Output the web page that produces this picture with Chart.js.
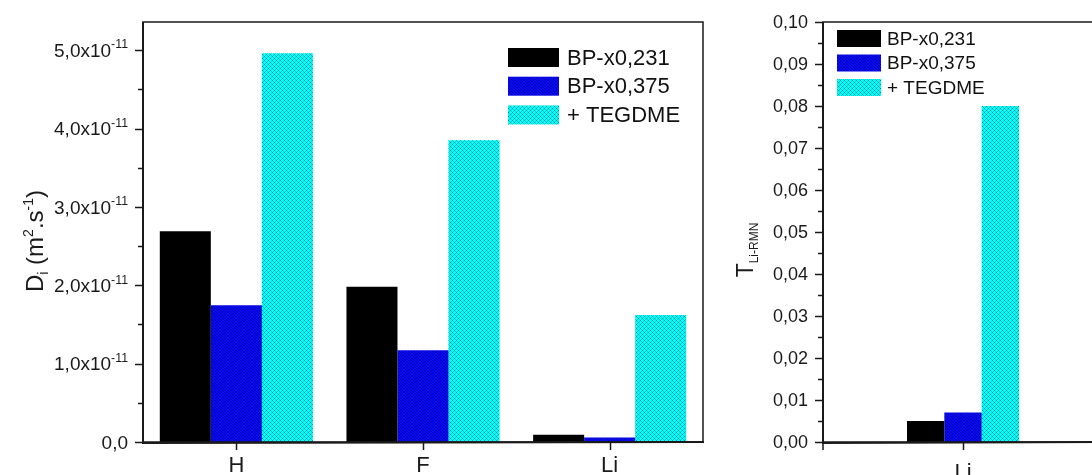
<!DOCTYPE html>
<html>
<head>
<meta charset="utf-8">
<script src="https://cdn.jsdelivr.net/npm/chart.js@4.4.1/dist/chart.umd.min.js"></script>
<style>
  html, body { margin: 0; padding: 0; background: #fff; overflow: hidden; }
  #wrap { position: relative; width: 1092px; height: 475px; overflow: hidden; background: #fff; }
  canvas { position: absolute; top: 0; }
  #diff { left: 0; }
  #trans { left: 720px; }
</style>
</head>
<body>
<div id="wrap">
  <canvas id="diff" width="720" height="475"></canvas>
  <canvas id="trans" width="420" height="475"></canvas>
</div>
<script>
// left panel: self-diffusion coefficients, in units of 1e-11 m2/s
const nuclei = ['H', 'F', 'Li'];
const seriesNames = ['BP-x0,231', 'BP-x0,375', '+ TEGDME'];
const diffBP231 = [2.69, 1.98, 0.094];
const diffBP375 = [1.745, 1.17, 0.056];
const diffTEGDME = [4.96, 3.85, 1.62];
const diffMajorTicks = [0, 1, 2, 3, 4, 5];
const diffMinorTicks = [0.5, 1.5, 2.5, 3.5, 4.5];
const diffTickLabels = ['0,0', '1,0x10', '2,0x10', '3,0x10', '4,0x10', '5,0x10'];
const diffExponent = '-11';

// right panel: Li transference number
const transCategories = ['Li'];
const transBP231 = [0.005];
const transBP375 = [0.007];
const transTEGDME = [0.080];
const transMajorTicks = [0, 0.01, 0.02, 0.03, 0.04, 0.05, 0.06, 0.07, 0.08, 0.09, 0.10];
const transMinorTicks = [0.005, 0.015, 0.025, 0.035, 0.045, 0.055, 0.065, 0.075, 0.085, 0.095];
const transTickLabels = ['0,00', '0,01', '0,02', '0,03', '0,04', '0,05', '0,06', '0,07', '0,08', '0,09', '0,10'];

const FONT = '"Liberation Sans", Arial, sans-serif';

// fill patterns like the Origin hatches
function makePattern(base, px) {
    const c = document.createElement('canvas');
    const n = px.size;
    c.width = n; c.height = n;
    const g = c.getContext('2d');
    g.fillStyle = base;
    g.fillRect(0, 0, n, n);
    px.dots.forEach(d => {
        g.fillStyle = d[2];
        g.fillRect(d[0], d[1], 1, 1);
    });
    return g.createPattern(c, 'repeat');
}

const blueHatch = makePattern('#0a0aff', {
    size: 3,
    dots: [[0, 0, '#0000a0'], [1, 1, '#0000a0'], [2, 2, '#0000a0']]
});
const cyanHatch = makePattern('#00ffff', {
    size: 4,
    dots: [[0, 0, '#008c8c'], [2, 2, '#008c8c'], [1, 1, '#10c8c8'], [3, 3, '#10c8c8'],
           [1, 3, '#10c8c8'], [3, 1, '#10c8c8']]
});
const fills = ['#000000', blueHatch, cyanHatch];

function drawRich(ctx, parts, x, y, sizes) {
    // parts: [text, level] level 0 normal, 1 sub, -1 sup
    let cx = x;
    parts.forEach(p => {
        const s = sizes[p[1]];
        ctx.font = s.size + 'px ' + FONT;
        ctx.fillText(p[0], cx, y + s.dy);
        cx += ctx.measureText(p[0]).width;
    });
}

function richWidth(ctx, parts, sizes) {
    let w = 0;
    parts.forEach(p => {
        ctx.font = sizes[p[1]].size + 'px ' + FONT;
        w += ctx.measureText(p[0]).width;
    });
    return w;
}

function decor(cfg) {
    return {
        id: 'decor',
        afterDatasetsDraw(chart) {
            const ctx = chart.ctx;
            const a = chart.chartArea;
            const xs = chart.scales.x, ys = chart.scales.y;
            ctx.save();
            ctx.fillStyle = '#1a1a1a';
            ctx.strokeStyle = '#1a1a1a';

            // frame
            ctx.lineWidth = 1.5;
            ctx.strokeRect(a.left, a.top, a.right - a.left, a.bottom - a.top);
            ctx.lineWidth = 2;
            ctx.beginPath();
            ctx.moveTo(a.left, a.top); ctx.lineTo(a.left, a.bottom + 1); ctx.lineTo(a.right + 1, a.bottom);
            ctx.stroke();

            // y ticks
            ctx.lineWidth = 1.5;
            ctx.beginPath();
            cfg.major.forEach(v => {
                const py = Math.round(ys.getPixelForValue(v)) + 0.5;
                ctx.moveTo(a.left - 8, py); ctx.lineTo(a.left, py);
            });
            cfg.minor.forEach(v => {
                const py = Math.round(ys.getPixelForValue(v)) + 0.5;
                ctx.moveTo(a.left - 5, py); ctx.lineTo(a.left, py);
            });
            // x ticks
            chart.data.labels.forEach((l, i) => {
                const px = Math.round(xs.getPixelForValue(i)) + 0.5;
                ctx.moveTo(px, a.bottom); ctx.lineTo(px, a.bottom + 8);
            });
            if (cfg.cornerTick) {
                ctx.moveTo(a.left, a.bottom); ctx.lineTo(a.left, a.bottom + 8);
            }
            ctx.stroke();

            // y tick labels
            ctx.textBaseline = 'alphabetic';
            ctx.textAlign = 'left';
            const tickSizes = { 0: { size: cfg.tickFont, dy: 0 }, '-1': { size: cfg.tickFont * 0.65, dy: -cfg.tickFont * 0.45 } };
            cfg.major.forEach((v, i) => {
                const py = ys.getPixelForValue(v) + cfg.tickFont * 0.36;
                const parts = [[cfg.labels[i], 0]];
                if (cfg.exponent && v !== 0) parts.push([cfg.exponent, -1]);
                const w = richWidth(ctx, parts, tickSizes);
                drawRich(ctx, parts, a.left - 15 - w, py, tickSizes);
            });

            // x labels
            ctx.font = cfg.xFont + 'px ' + FONT;
            ctx.textAlign = 'center';
            chart.data.labels.forEach((l, i) => {
                ctx.fillText(l, xs.getPixelForValue(i), a.bottom + cfg.xLabelDy);
            });

            // y title (rotated)
            ctx.textAlign = 'left';
            const t = cfg.title;
            const tw = richWidth(ctx, t.parts, t.sizes);
            ctx.save();
            ctx.translate(t.x, t.y);
            ctx.rotate(-Math.PI / 2);
            drawRich(ctx, t.parts, -tw / 2, 0, t.sizes);
            ctx.restore();

            // legend
            const lg = cfg.legend;
            ctx.textBaseline = 'middle';
            ctx.font = lg.font + 'px ' + FONT;
            chart.data.datasets.forEach((ds, i) => {
                const top = lg.y + i * lg.step;
                ctx.fillStyle = ds.backgroundColor;
                ctx.fillRect(lg.x, top, lg.w, lg.h);
                ctx.fillStyle = '#111';
                ctx.fillText(ds.label, lg.x + lg.w + lg.gap, top + lg.h / 2 + 1);
            });
            ctx.restore();
        }
    };
}

Chart.defaults.font.family = FONT;

new Chart(document.getElementById('diff'), {
    type: 'bar',
    data: {
        labels: nuclei,
        datasets: [diffBP231, diffBP375, diffTEGDME].map((vals, i) => ({
            label: seriesNames[i],
            data: vals,
            backgroundColor: fills[i],
            borderWidth: 0,
            barPercentage: 1.0,
            categoryPercentage: 0.82
        }))
    },
    options: {
        responsive: false,
        animation: false,
        devicePixelRatio: 1,
        layout: { padding: { left: 143, right: 17, top: 22, bottom: 33 } },
        plugins: { legend: { display: false }, tooltip: { enabled: false } },
        scales: {
            x: { display: false },
            y: { display: false, min: 0, max: 5.36 }
        }
    },
    plugins: [decor({
        major: diffMajorTicks,
        minor: diffMinorTicks,
        labels: diffTickLabels,
        exponent: diffExponent,
        tickFont: 19,
        xFont: 22,
        xLabelDy: 30,
        title: {
            x: 43, y: 241,
            parts: [['D', 0], ['i', 1], [' (m', 0], ['2', -1], ['.s', 0], ['-1', -1], [')', 0]],
            sizes: { 0: { size: 24, dy: 0 }, 1: { size: 14, dy: 5 }, '-1': { size: 14, dy: -10 } }
        },
        legend: { x: 508, y: 48, step: 28.7, w: 51, h: 19, gap: 8, font: 22 }
    })]
});

new Chart(document.getElementById('trans'), {
    type: 'bar',
    data: {
        labels: transCategories,
        datasets: [transBP231, transBP375, transTEGDME].map((vals, i) => ({
            label: seriesNames[i],
            data: vals,
            backgroundColor: fills[i],
            borderWidth: 0,
            barPercentage: 1.0,
            categoryPercentage: 0.4
        }))
    },
    options: {
        responsive: false,
        animation: false,
        devicePixelRatio: 1,
        layout: { padding: { left: 103, right: 37, top: 22, bottom: 33 } },
        plugins: { legend: { display: false }, tooltip: { enabled: false } },
        scales: {
            x: { display: false },
            y: { display: false, min: 0, max: 0.10 }
        }
    },
    plugins: [decor({
        major: transMajorTicks,
        minor: transMinorTicks,
        labels: transTickLabels,
        exponent: null,
        tickFont: 18,
        xFont: 22,
        xLabelDy: 37,
        cornerTick: true,
        title: {
            x: 33, y: 250,
            parts: [['T', 0], ['Li-RMN', 1]],
            sizes: { 0: { size: 23, dy: 0 }, 1: { size: 12, dy: 5 } }
        },
        legend: { x: 117, y: 30, step: 24.5, w: 44, h: 17, gap: 6, font: 19 }
    })]
});
</script>
</body>
</html>
